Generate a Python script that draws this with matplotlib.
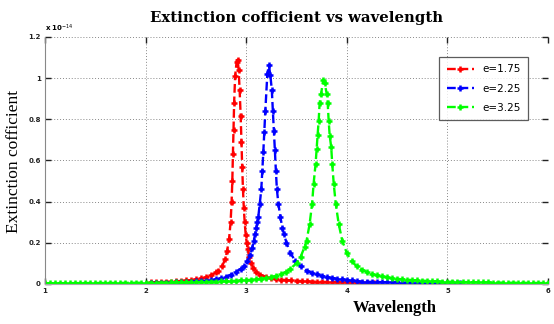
import matplotlib
matplotlib.use("Agg")
import matplotlib.pyplot as plt
from matplotlib.ticker import FormatStrFormatter

# extinction coefficient values in units of 1e-14
red_x = [2.05, 2.1, 2.15, 2.2, 2.25, 2.3, 2.35, 2.4, 2.45, 2.5, 2.55, 2.6, 2.65,
         2.7, 2.72, 2.76, 2.79, 2.81, 2.83, 2.845, 2.855, 2.862, 2.868, 2.874,
         2.88, 2.89, 2.905, 2.915, 2.925, 2.935, 2.945, 2.953, 2.96, 2.968,
         2.976, 2.985, 2.995, 3.005, 3.015, 3.03, 3.05, 3.07, 3.1, 3.14, 3.2,
         3.25, 3.3, 3.35, 3.4, 3.45, 3.5, 3.55, 3.6, 3.65, 3.7, 3.75, 3.8, 3.85,
         3.9, 3.95, 4.0, 4.05, 4.1, 4.15, 4.2, 4.27]
red_y = [0.008, 0.009, 0.0095, 0.011, 0.012, 0.013, 0.015, 0.017, 0.019, 0.022,
         0.027, 0.032, 0.042, 0.056, 0.065, 0.085, 0.12, 0.16, 0.22, 0.3, 0.4,
         0.5, 0.63, 0.75, 0.88, 1.01, 1.08, 1.09, 1.04, 0.94, 0.815, 0.69, 0.57,
         0.46, 0.37, 0.3, 0.24, 0.2, 0.17, 0.13, 0.1, 0.08, 0.06, 0.045, 0.035,
         0.029, 0.025, 0.021, 0.019, 0.017, 0.016, 0.014, 0.013, 0.012, 0.011,
         0.0105, 0.01, 0.0095, 0.009, 0.0085, 0.008, 0.0076, 0.0072, 0.0068,
         0.0065, 0.006]

blue_x = [2.05, 2.1, 2.15, 2.2, 2.25, 2.3, 2.35, 2.4, 2.45, 2.5, 2.55, 2.6, 2.65,
          2.7, 2.75, 2.8, 2.85, 2.9, 2.95, 2.975, 3.01, 3.04, 3.06, 3.075, 3.09,
          3.1, 3.11, 3.12, 3.135, 3.15, 3.16, 3.17, 3.18, 3.19, 3.21, 3.225,
          3.24, 3.255, 3.265, 3.275, 3.285, 3.295, 3.305, 3.32, 3.34, 3.36,
          3.375, 3.4, 3.44, 3.49, 3.54, 3.6, 3.65, 3.7, 3.75, 3.8, 3.85, 3.9,
          3.95, 4.0, 4.05, 4.1, 4.15, 4.2, 4.25, 4.3, 4.35, 4.4, 4.45, 4.5, 4.55,
          4.6, 4.65, 4.7, 4.75, 4.8, 4.85, 4.9, 4.95, 5.0, 5.05, 5.1, 5.13]
blue_y = [0.005, 0.0055, 0.006, 0.0065, 0.007, 0.0078, 0.0087, 0.0097, 0.011,
          0.0125, 0.014, 0.016, 0.019, 0.022, 0.028, 0.036, 0.046, 0.06, 0.075,
          0.085, 0.11, 0.14, 0.175, 0.21, 0.245, 0.27, 0.3, 0.325, 0.39, 0.46,
          0.55, 0.64, 0.74, 0.84, 1.02, 1.063, 1.015, 0.94, 0.84, 0.745, 0.65,
          0.55, 0.46, 0.39, 0.325, 0.27, 0.245, 0.2, 0.15, 0.11, 0.085, 0.065,
          0.055, 0.047, 0.04, 0.034, 0.03, 0.026, 0.023, 0.02, 0.017, 0.014,
          0.012, 0.011, 0.01, 0.0095, 0.009, 0.0085, 0.008, 0.0076, 0.0072,
          0.0068, 0.0065, 0.0062, 0.006, 0.0057, 0.0055, 0.0053, 0.0051, 0.0049,
          0.0047, 0.0045, 0.0044]

green_x = [1.0, 1.05, 1.1, 1.15, 1.2, 1.25, 1.3, 1.35, 1.4, 1.45, 1.5, 1.55, 1.6,
           1.65, 1.7, 1.75, 1.8, 1.85, 1.9, 1.95, 2.0, 2.05, 2.1, 2.15, 2.2,
           2.25, 2.3, 2.35, 2.4, 2.45, 2.5, 2.55, 2.6, 2.65, 2.7, 2.75, 2.8,
           2.85, 2.9, 2.95, 3.0, 3.05, 3.1, 3.15, 3.2, 3.25, 3.3, 3.35, 3.4,
           3.44, 3.5, 3.54, 3.58, 3.6, 3.63, 3.655, 3.67, 3.69, 3.7, 3.71, 3.72,
           3.73, 3.745, 3.765, 3.78, 3.8, 3.81, 3.82, 3.83, 3.845, 3.855, 3.87,
           3.89, 3.92, 3.955, 4.0, 4.05, 4.1, 4.15, 4.2, 4.25, 4.3, 4.35, 4.4,
           4.45, 4.5, 4.55, 4.6, 4.65, 4.7, 4.75, 4.8, 4.85, 4.9, 4.95, 5.0,
           5.05, 5.1, 5.15, 5.2, 5.25, 5.3, 5.35, 5.4, 5.45, 5.5, 5.55, 5.6,
           5.65, 5.7, 5.75, 5.8, 5.85, 5.9, 5.95, 6.0]
green_y = [0.004, 0.004, 0.0041, 0.0042, 0.0042, 0.0043, 0.0044, 0.0045, 0.0046,
           0.0047, 0.0048, 0.0049, 0.005, 0.0051, 0.0052, 0.0054, 0.0055, 0.0057,
           0.0058, 0.006, 0.0062, 0.0064, 0.0066, 0.0069, 0.0071, 0.0074, 0.0077,
           0.008, 0.0084, 0.0088, 0.0092, 0.0097, 0.0103, 0.0109, 0.0116, 0.0124,
           0.0133, 0.0144, 0.0156, 0.017, 0.0187, 0.0207, 0.0231, 0.0261, 0.0298,
           0.0345, 0.0405, 0.048, 0.06, 0.075, 0.1, 0.13, 0.18, 0.21, 0.29, 0.39,
           0.487, 0.585, 0.655, 0.725, 0.79, 0.88, 0.925, 0.99, 0.975, 0.925,
           0.88, 0.79, 0.72, 0.665, 0.585, 0.487, 0.39, 0.29, 0.21, 0.15, 0.11,
           0.085, 0.07, 0.058, 0.049, 0.042, 0.037, 0.032, 0.028, 0.025, 0.023,
           0.021, 0.019, 0.017, 0.016, 0.015, 0.014, 0.013, 0.012, 0.011, 0.0105,
           0.01, 0.0095, 0.009, 0.0085, 0.008, 0.0077, 0.0074, 0.0071, 0.0068,
           0.0065, 0.0062, 0.006, 0.0058, 0.0056, 0.0054, 0.0052, 0.005, 0.0048,
           0.0047]

labels = ["e=1.75", "e=2.25", "e=3.25"]
colors = ["#ff0000", "#0000ff", "#00ff00"]

fig = plt.figure(figsize=(5.54, 3.24), dpi=100)
ax = fig.add_axes([0.0812, 0.1235, 0.908, 0.7625])

for xs, ys, lab, col in zip([red_x, blue_x, green_x], [red_y, blue_y, green_y], labels, colors):
    ax.plot(xs, ys, linestyle="--", color=col, linewidth=1.7, marker="+",
            markersize=5, markeredgewidth=1.8, label=lab)

ax.set_xlim(1, 6)
ax.set_ylim(0, 1.2)
ax.set_xticks([1, 2, 3, 4, 5, 6])
ax.set_yticks([0, 0.2, 0.4, 0.6, 0.8, 1.0, 1.2])
ax.yaxis.set_major_formatter(FormatStrFormatter("%g"))
ax.grid(True, color="#888888", linestyle=(0, (1, 2)), linewidth=0.7)
ax.tick_params(direction="in", length=4, width=1, labelsize=5, pad=3,
               top=True, right=True, colors="#222222")
for lbl in ax.get_xticklabels() + ax.get_yticklabels():
    lbl.set_fontweight("bold")
ax.spines["top"].set_visible(False)
ax.spines["right"].set_visible(False)
ax.spines["left"].set_color("#888888")
ax.spines["bottom"].set_color("#aaaaaa")

ax.text(0.0, 1.012, r"x 10$^{-14}$", transform=ax.transAxes, fontsize=5,
        fontweight="bold", ha="left", va="bottom")

ax.set_title("Extinction cofficient vs wavelength", fontsize=10.7, fontweight="bold",
             family="DejaVu Serif", pad=11)
ax.set_ylabel("Extinction cofficient", fontsize=12.5, family="Liberation Serif")
ax.yaxis.set_label_coords(-0.045, 0.496)
fig.text(0.713, 0.025, "Wavelength", fontsize=12, fontweight="bold",
         family="Liberation Serif", ha="center", va="bottom")

leg = ax.legend(loc="upper right", bbox_to_anchor=(0.97, 0.94), fontsize=7.5,
                frameon=True, fancybox=False, handlelength=2.6, labelspacing=0.9,
                borderpad=0.7)
leg.get_frame().set_edgecolor("#333333")
leg.get_frame().set_linewidth(0.9)

fig.savefig("out.png", dpi=100)
